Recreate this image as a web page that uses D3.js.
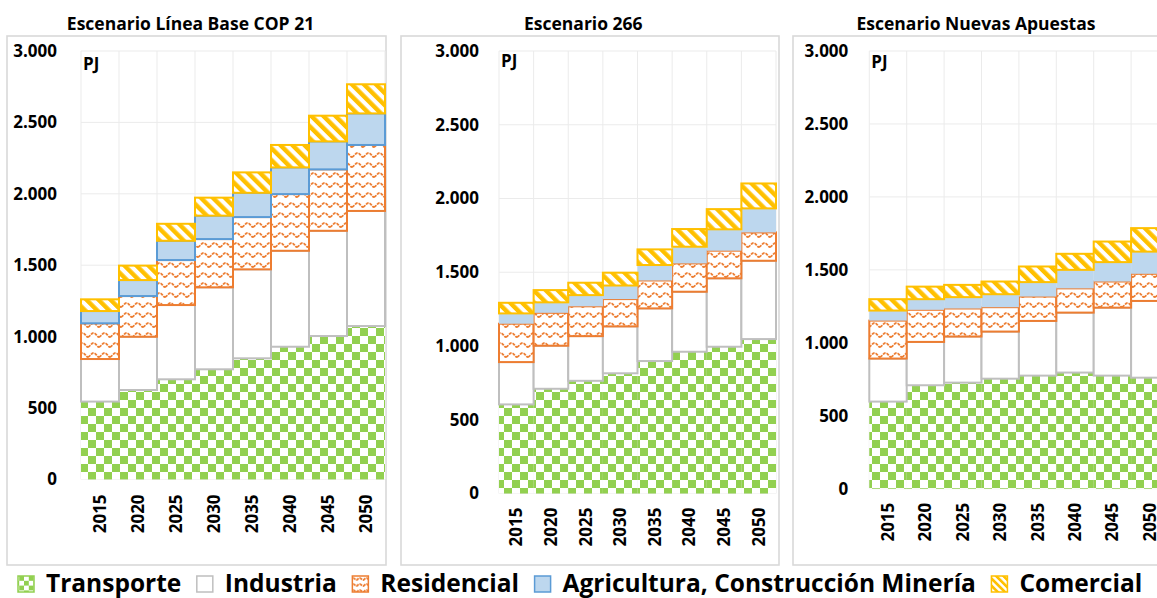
<!DOCTYPE html>
<html><head><meta charset="utf-8">
<script src="https://cdn.jsdelivr.net/npm/d3@7/dist/d3.min.js"></script>
<style>
body{margin:0;background:#fff}
svg{display:block}
text{font-family:"Open Sans",Lato,sans-serif;font-weight:700;fill:#000}
</style>
</head><body>
<svg id="c" width="1157" height="598"></svg>
<script>
// ---------- DATA ----------
const years = ["2015","2020","2025","2030","2035","2040","2045","2050"];
const seriesNames = ["Transporte","Industria","Residencial","Agricultura, Construcción Minería","Comercial"];
const scenarioTitles = ["Escenario Línea Base COP 21","Escenario 266","Escenario Nuevas Apuestas"];
const yTicks = [0,500,1000,1500,2000,2500,3000];
const unitLabel = "PJ";

// Escenario Línea Base COP 21
const base_transporte  = [545, 626, 701, 771, 848, 929, 1004, 1074];
const base_industria   = [298, 373, 520, 574, 623, 672, 737, 806];
const base_residencial = [250, 285, 315, 338, 366, 397, 430, 462];
const base_agricultura = [86, 112, 135, 164, 170, 187, 196, 221];
const base_comercial   = [82, 101, 119, 126, 143, 157, 180, 204];

// Escenario 266
const e266_transporte  = [604, 710, 764, 815, 898, 961, 995, 1047];
const e266_industria   = [287, 292, 303, 318, 357, 407, 464, 531];
const e266_residencial = [260, 223, 202, 185, 189, 192, 187, 192];
const e266_agricultura = [70, 71, 76, 92, 105, 113, 145, 163];
const e266_comercial   = [72, 83, 84, 87, 106, 120, 137, 169];

// Escenario Nuevas Apuestas
const nuevas_transporte  = [597, 709, 727, 754, 775, 796, 775, 761];
const nuevas_industria   = [295, 297, 316, 323, 375, 411, 466, 526];
const nuevas_residencial = [260, 220, 192, 167, 167, 166, 179, 186];
const nuevas_agricultura = [69, 73, 78, 89, 99, 127, 133, 152];
const nuevas_comercial   = [78, 86, 84, 87, 107, 110, 141, 161];

// ---------- BUILD ----------
const scenarios = [
  [base_transporte, base_industria, base_residencial, base_agricultura, base_comercial],
  [e266_transporte, e266_industria, e266_residencial, e266_agricultura, e266_comercial],
  [nuevas_transporte, nuevas_industria, nuevas_residencial, nuevas_agricultura, nuevas_comercial]
];

const FONT = "'Open Sans',Lato,sans-serif";
const C = {green:"#92d050", gray:"#bfbfbf", orange:"#ed7d31", lblue:"#bdd7ee", blue:"#5b9bd5", yellow:"#ffc000", grid:"#ebebeb", frame:"#d9d9d9"};
const fmt = d3.formatLocale({decimal:",", thousands:".", grouping:[3], currency:["",""]}).format(",");

const svg = d3.select("#c");
svg.append("rect").attr("width",1157).attr("height",598).attr("fill","#fff");
const defs = svg.append("defs");

function makePatterns(suf, k){
  // checker (Transporte)
  const pT = defs.append("pattern").attr("id","pT"+suf).attr("patternUnits","userSpaceOnUse")
    .attr("width",16*k).attr("height",16*k);
  pT.append("rect").attr("width",16*k).attr("height",16*k).attr("fill","#fff");
  pT.append("rect").attr("width",8*k).attr("height",8*k).attr("fill",C.green);
  pT.append("rect").attr("x",8*k).attr("y",8*k).attr("width",8*k).attr("height",8*k).attr("fill",C.green);
  // wave (Residencial)
  const pR = defs.append("pattern").attr("id","pR"+suf).attr("patternUnits","userSpaceOnUse")
    .attr("width",11*k).attr("height",10*k);
  pR.append("rect").attr("width",11*k).attr("height",10*k).attr("fill","#fff");
  pR.append("path").attr("d",`M0,${7*k} C${2*k},${7*k} ${3*k},${3*k} ${5.5*k},${3*k} C${8*k},${3*k} ${9*k},${7*k} ${11*k},${7*k}`)
    .attr("fill","none").attr("stroke",C.orange).attr("stroke-width",1.8).attr("stroke-dasharray","3,1");
  // diagonal stripes (Comercial)
  const pC = defs.append("pattern").attr("id","pC"+suf).attr("patternUnits","userSpaceOnUse")
    .attr("width",8.5*k).attr("height",8.5*k).attr("patternTransform","rotate(-45)");
  pC.append("rect").attr("width",8.5*k).attr("height",8.5*k).attr("fill","#fff");
  pC.append("rect").attr("width",4.4*k).attr("height",8.5*k).attr("fill",C.yellow);
}
makePatterns("",1);
makePatterns("L",0.6);

function styles(suf, agriStroke){
  return [
    {fill:`url(#pT${suf})`, stroke:"none"},
    {fill:"#fff", stroke:C.gray},
    {fill:`url(#pR${suf})`, stroke:C.orange},
    {fill:C.lblue, stroke: agriStroke ? C.blue : "none"},
    {fill:`url(#pC${suf})`, stroke:C.yellow}
  ];
}

const panels = [
  {frame:[7,36,386,565],    x0:81,    x1:385,    y0:479.4, y1:51, titleX:190.5, tickPad:24, pjY:70, xGap:15, agriStroke:true},
  {frame:[401,36,779,565],  x0:499,   x1:776,    y0:493.5, y1:51, titleX:583.3, tickPad:20, pjY:66.5, xGap:14, agriStroke:false},
  {frame:[793,36,1172,565], x0:869.3, x1:1168.5, y0:488.7, y1:51, titleX:976,   tickPad:21, pjY:67.5, xGap:14, agriStroke:false}
];

panels.forEach((p, i) => {
  const g = svg.append("g");
  const [fx0, fy0, fx1, fy1] = p.frame;
  g.append("rect").attr("x",fx0).attr("y",fy0).attr("width",fx1-fx0).attr("height",fy1-fy0)
    .attr("fill","#fff").attr("stroke",C.frame).attr("stroke-width",1.6);

  g.append("text").attr("x",p.titleX).attr("y",30).attr("text-anchor","middle")
    .attr("font-size",17.5).text(scenarioTitles[i]);

  const x = d3.scaleBand().domain(years).range([p.x0, p.x1]).padding(0);
  const y = d3.scaleLinear().domain([0,3000]).range([p.y0, p.y1]);

  // gridlines
  g.append("g").selectAll("line").data(yTicks).join("line")
    .attr("x1",p.x0).attr("x2",p.x1).attr("y1",d=>y(d)).attr("y2",d=>y(d))
    .attr("stroke",C.grid).attr("stroke-width",1);
  const bounds = years.map(d=>x(d)).concat([x(years[years.length-1])+x.bandwidth()]);
  g.append("g").selectAll("line").data(bounds).join("line")
    .attr("x1",d=>d).attr("x2",d=>d).attr("y1",p.y1).attr("y2",p.y0)
    .attr("stroke",C.grid).attr("stroke-width",1);

  // stacked bars
  const rows = years.map((yr, j) => {
    const o = {year: yr};
    seriesNames.forEach((s, k) => o[s] = scenarios[i][k][j]);
    return o;
  });
  const stack = d3.stack().keys(seriesNames)(rows);
  const st = styles("", p.agriStroke);
  stack.forEach((layer, k) => {
    g.append("g").selectAll("rect").data(layer).join("rect")
      .attr("x", d => x(d.data.year))
      .attr("width", x.bandwidth())
      .attr("y", d => y(d[1]))
      .attr("height", d => y(d[0]) - y(d[1]))
      .attr("fill", st[k].fill)
      .attr("stroke", st[k].stroke)
      .attr("stroke-width", 2);
  });

  // y axis labels
  const ya = g.append("g").attr("transform",`translate(${p.x0},0)`)
    .call(d3.axisLeft(y).tickValues(yTicks).tickFormat(fmt).tickSize(0).tickPadding(p.tickPad));
  ya.select(".domain").remove();
  ya.selectAll("text").attr("font-size",17).attr("font-family",FONT).attr("font-weight",700).attr("fill","#000");

  // x axis labels (rotated)
  const xa = g.append("g").attr("transform",`translate(0,${p.y0})`)
    .call(d3.axisBottom(x).tickSize(0).tickPadding(0));
  xa.select(".domain").remove();
  xa.selectAll("text")
    .attr("font-size",17).attr("font-family",FONT).attr("font-weight",700).attr("fill","#000")
    .attr("text-anchor","end").attr("dy","0.35em").attr("y",0).attr("x",0)
    .attr("transform",`translate(0,${p.xGap}) rotate(-90)`);

  // unit label
  g.append("text").attr("x",p.x0+2).attr("y",p.pjY).attr("font-size",17).text(unitLabel);
});

// legend
const leg = svg.append("g");
const lst = styles("L", true);
let lx = 18;
seriesNames.forEach((s, k) => {
  const it = leg.append("g");
  it.append("rect").attr("x",lx).attr("y",576).attr("width",16).attr("height",16)
    .attr("fill", lst[k].fill)
    .attr("stroke", k===0 ? C.green : lst[k].stroke)
    .attr("stroke-width", 1.5);
  const t = it.append("text").attr("x",lx+28).attr("y",592).attr("font-size",24.5).text(s);
  lx = lx + 28 + t.node().getComputedTextLength() + 15.5;
});
</script>
</body></html>
